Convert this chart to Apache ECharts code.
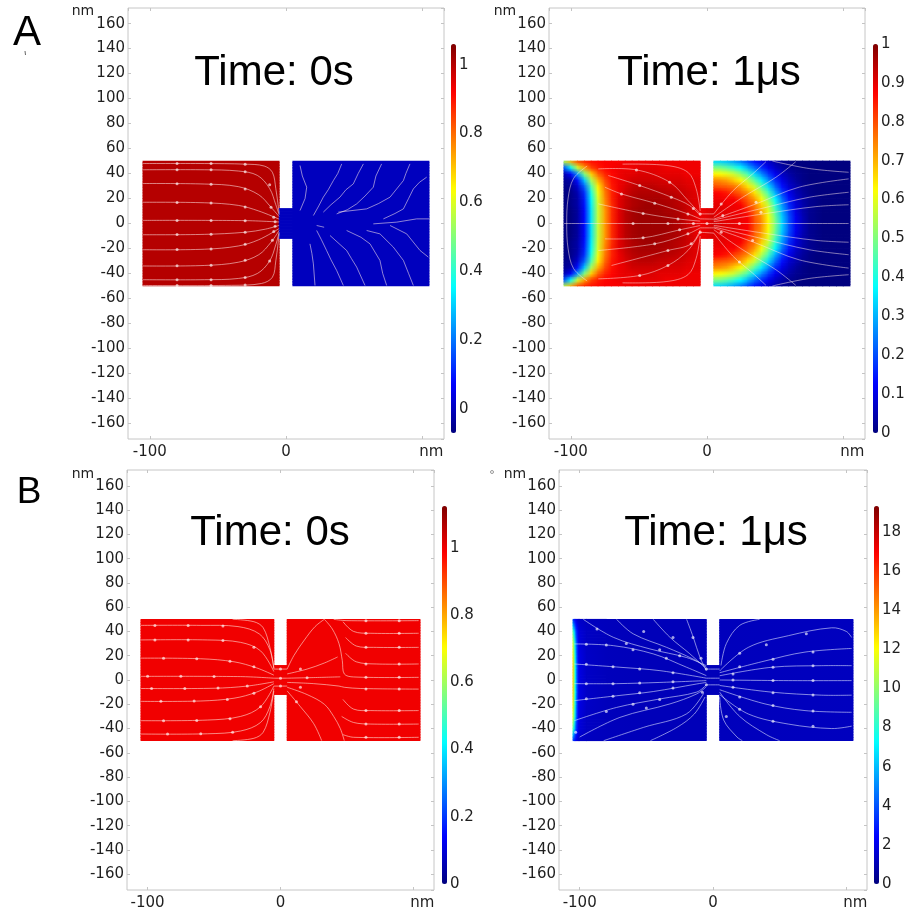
<!DOCTYPE html>
<html>
<head>
<meta charset="utf-8">
<script src="https://cdn.jsdelivr.net/npm/echarts@6/dist/echarts.min.js"></script>
<style>
  html, body { margin: 0; padding: 0; background: #ffffff; }
  #chart { width: 910px; height: 913px; }
</style>
</head>
<body>
<div id="chart"></div>
<script>
// ---------------------------------------------------------------
// Concentration / potential fields in a two-reservoir nanochannel
// geometry (reservoirs -105..-5 nm and 5..105 nm, channel -5..5 nm,
// channel half-height 12 nm, reservoir half-height 50 nm).
// Fields are sampled on nodes for y >= 0; each field is symmetric
// about the channel axis, so the lower half reuses the same rows.
// ---------------------------------------------------------------

// colour scale ranges of the four colour bars
const rangeAL = [-0.07, 1.06];
const rangeAR = [0, 1];
const rangeBL = [0, 1.125];
const rangeBR = [0, 19.33];

// node positions (nm)
const xLeft5 = [-105,-100,-95,-90,-85,-80,-75,-70,-65,-60,-55,-50,-45,-40,-35,-30,-25,-20,-15,-10,-5];
const xRight5 = [5,10,15,20,25,30,35,40,45,50,55,60,65,70,75,80,85,90,95,100,105];
const xChan = [-5, 0, 5];
const yRows5 = [0,5,10,15,20,25,30,35,40,45,50];
const yChan = [0, 6, 12];
const xLeftEnds = [-105, -5];
const xRightEnds = [5, 105];
const xChanEnds = [-5, 5];
const yResEnds = [0, 50];
const yChanEnds = [0, 12];

// A, t = 0 s : step initial condition
const fieldAL_left = [[1.0, 1.0], [1.0, 1.0]];
const fieldAL_chan = [[0.0, 0.0], [0.0, 0.0]];
const fieldAL_right = [[0.0, 0.0], [0.0, 0.0]];

// A, t = 1 us
const fieldAR_left = [
  [0.00,0.00,0.03,0.13,0.35,0.57,0.72,0.83,0.90,0.94,0.96,0.97,0.97,0.97,0.97,0.97,0.96,0.95,0.93,0.91,0.89],
  [0.00,0.00,0.03,0.13,0.35,0.57,0.72,0.83,0.90,0.94,0.96,0.97,0.97,0.97,0.97,0.97,0.96,0.95,0.93,0.91,0.89],
  [0.00,0.00,0.03,0.13,0.35,0.57,0.72,0.83,0.90,0.94,0.96,0.97,0.97,0.97,0.97,0.96,0.96,0.95,0.93,0.91,0.89],
  [0.00,0.01,0.04,0.14,0.36,0.58,0.73,0.83,0.90,0.93,0.95,0.96,0.97,0.97,0.96,0.96,0.95,0.94,0.93,0.91,0.90],
  [0.00,0.01,0.04,0.15,0.37,0.59,0.74,0.84,0.90,0.93,0.95,0.96,0.96,0.96,0.96,0.95,0.95,0.94,0.92,0.91,0.90],
  [0.00,0.01,0.05,0.17,0.40,0.61,0.75,0.84,0.89,0.92,0.94,0.95,0.95,0.95,0.95,0.94,0.94,0.93,0.92,0.91,0.90],
  [0.01,0.02,0.08,0.22,0.45,0.64,0.77,0.85,0.89,0.91,0.93,0.94,0.94,0.94,0.93,0.93,0.92,0.92,0.91,0.90,0.90],
  [0.02,0.04,0.14,0.32,0.54,0.70,0.80,0.86,0.89,0.90,0.92,0.92,0.92,0.92,0.92,0.91,0.91,0.91,0.90,0.90,0.90],
  [0.05,0.12,0.28,0.50,0.67,0.78,0.84,0.87,0.89,0.90,0.90,0.91,0.91,0.91,0.90,0.90,0.90,0.90,0.89,0.89,0.89],
  [0.20,0.38,0.58,0.72,0.81,0.85,0.87,0.88,0.89,0.89,0.89,0.90,0.90,0.90,0.90,0.89,0.89,0.89,0.89,0.89,0.89],
  [0.55,0.70,0.80,0.84,0.86,0.87,0.88,0.88,0.88,0.89,0.89,0.89,0.89,0.89,0.89,0.89,0.89,0.89,0.89,0.89,0.89]
];
const fieldAR_chan = [
  [0.89,0.90,0.92],
  [0.89,0.90,0.92],
  [0.89,0.90,0.91]
];
const fieldAR_right = [
  [0.92,0.91,0.90,0.90,0.89,0.88,0.80,0.74,0.63,0.50,0.34,0.21,0.11,0.06,0.02,0.01,0,0,0,0,0],
  [0.91,0.90,0.90,0.90,0.89,0.88,0.79,0.73,0.62,0.49,0.33,0.21,0.11,0.06,0.02,0.01,0,0,0,0,0],
  [0.90,0.90,0.90,0.89,0.89,0.85,0.78,0.71,0.60,0.46,0.31,0.19,0.10,0.05,0.02,0.01,0,0,0,0,0],
  [0.90,0.90,0.89,0.89,0.88,0.81,0.76,0.67,0.57,0.42,0.28,0.17,0.09,0.05,0.02,0.01,0,0,0,0,0],
  [0.89,0.89,0.88,0.88,0.83,0.78,0.72,0.62,0.51,0.37,0.24,0.14,0.08,0.04,0.02,0.01,0,0,0,0,0],
  [0.88,0.87,0.85,0.81,0.78,0.73,0.65,0.55,0.44,0.30,0.19,0.11,0.06,0.03,0.01,0,0,0,0,0,0],
  [0.80,0.79,0.78,0.76,0.72,0.65,0.57,0.46,0.34,0.23,0.14,0.08,0.05,0.02,0.01,0,0,0,0,0,0],
  [0.74,0.73,0.71,0.67,0.62,0.55,0.46,0.36,0.26,0.17,0.10,0.06,0.03,0.01,0,0,0,0,0,0,0],
  [0.63,0.62,0.60,0.57,0.51,0.44,0.34,0.26,0.18,0.11,0.07,0.04,0.02,0.01,0,0,0,0,0,0,0],
  [0.50,0.49,0.46,0.42,0.37,0.30,0.23,0.17,0.11,0.07,0.04,0.02,0.01,0,0,0,0,0,0,0,0],
  [0.34,0.33,0.31,0.28,0.24,0.19,0.14,0.10,0.07,0.04,0.02,0.01,0,0,0,0,0,0,0,0,0]
];

// B, t = 0 s : uniform
const fieldBL_left = [[1.0, 1.0], [1.0, 1.0]];
const fieldBL_chan = [[1.0, 1.0], [1.0, 1.0]];
const fieldBL_right = [[1.0, 1.0], [1.0, 1.0]];

// B, t = 1 us : thin layer at the left wall
const xBRLeft = [-105,-104,-103,-102,-101,-100,-95,-80,-50,-5];
const yBRRows = [0,10,20,30,40,45,50];
const fieldBR_left = [
  [13.0,10.0,6.8,4.2,2.6,1.9,1.35,1.15,1.1,1.1],
  [13.0,10.0,6.8,4.2,2.6,1.9,1.35,1.15,1.1,1.1],
  [12.5,9.5,6.5,4.0,2.5,1.9,1.35,1.15,1.1,1.1],
  [11.5,8.8,6.0,3.7,2.4,1.8,1.3,1.15,1.1,1.1],
  [9.0,6.8,4.6,3.0,2.1,1.7,1.3,1.15,1.1,1.1],
  [6.0,4.6,3.3,2.3,1.8,1.5,1.25,1.15,1.1,1.1],
  [3.5,2.8,2.2,1.8,1.5,1.4,1.2,1.15,1.1,1.1]
];
const fieldBR_chan = [[1.1, 1.1], [1.1, 1.1]];
const fieldBR_right = [[1.15, 1.2], [1.15, 1.2]];

// streamlines (nm)
const streamsAL_L = [
  [[-105,48],[-60,48],[-30,47.5],[-16,46],[-10,41],[-7.5,28],[-5,8]],
  [[-105,43],[-60,43],[-35,42],[-21,38.5],[-12,28],[-7.5,15],[-5,7]],
  [[-105,32],[-60,31.6],[-35,29.5],[-20,23],[-11,13],[-5,5.5]],
  [[-105,17],[-60,16.6],[-35,14.5],[-20,10],[-5,3.5]],
  [[-105,2.5],[-30,2.3],[-5,1.2]],
  [[-105,-9],[-60,-8.7],[-30,-7],[-15,-4.5],[-5,-1.5]],
  [[-105,-21],[-60,-20.6],[-35,-18],[-20,-13],[-5,-4]],
  [[-105,-34],[-60,-33.6],[-35,-31],[-20,-25],[-11,-15],[-5,-5.5]],
  [[-105,-45],[-60,-45],[-35,-44],[-21,-40],[-12,-30],[-7.5,-17],[-5,-7]],
  [[-105,-49.6],[-40,-49.5],[-18,-48],[-10,-43],[-7.5,-30],[-5,-8]]
];
const streamsAL_R = [
  [[20.1,6.4],[24,14],[27.4,21.1],[31,27],[34.8,34.4],[38,40],[40.9,47.7]],
  [[27.4,9.1],[33,15],[39.6,21.1],[44,27],[49.4,31.7],[53,40],[56.8,47.7]],
  [[37.2,7.7],[45,11],[51.9,15.7],[58,22],[64.1,29.1],[66,38],[70.2,47.7]],
  [[38.4,9.1],[59.2,11.7],[68,16],[76.4,21.1],[86.2,34.4],[88,40],[91,47.7]],
  [[71.5,3.7],[80,8],[86.2,11.7],[90,20],[93.5,27.7],[98,33],[103.3,37.1]],
  [[64.1,-0.3],[81.3,1.1],[95.9,3.7],[105,3.7]],
  [[10.3,10.4],[14,20],[15.2,29.1],[12,38],[10.3,46.4]],
  [[22.5,-5.6],[26,-13],[29.8,-21.6],[33,-29],[37.2,-37.6],[42.1,-49.6]],
  [[17.6,-16.3],[19,-24],[20.1,-32.3],[21.3,-49.6]],
  [[32.3,-9.6],[44.5,-21.6],[48,-28],[51.9,-34.9],[58,-49.6]],
  [[44.5,-5.6],[55,-11],[61.7,-16.3],[69,-29.6],[71,-40],[73.9,-49.6]],
  [[59.2,-5.6],[69,-8.3],[78.8,-18.9],[86.2,-29.6],[90,-40],[93.5,-49.6]],
  [[76.4,-1.6],[88.6,-8.3],[98.4,-21.6],[104.5,-26.9]],
  [[22.5,-1.6],[28,-3]]
];
const arrowsAL = [
  [-80,48],[-55,48],[-30,47.5],[-80,43],[-55,43],[-30,41.5],[-12,31],
  [-80,31.9],[-55,31.4],[-30,27.7],[-11,13],[-80,16.9],[-55,16.4],[-30,13.3],[-9,5],
  [-80,2.5],[-55,2.4],[-30,2.3],[-8,1.4],[-80,-8.9],[-55,-8.6],[-30,-7],[-8,-2.3],
  [-80,-20.9],[-55,-20.4],[-30,-16.7],[-9,-6.5],[-80,-33.9],[-55,-33.4],[-30,-29.5],[-10,-13.5],
  [-80,-45],[-55,-45],[-30,-43.2],[-12,-30],[-80,-49.6],[-55,-49.6],[-30,-49.3]
];

const streamsAR_L = [
  [[-62,47.5],[-30,46.5],[-14,41],[-8,28],[-5,10]],
  [[-79.8,43.7],[-51.8,42.9],[-27.4,33.1],[-14,18.4],[-5,7.7]],
  [[-72.5,38.4],[-49.4,30.4],[-26.2,21.1],[-12.8,14.4],[-5,6.4]],
  [[-75,29.1],[-62.8,23.7],[-38.4,16.3],[-14,7.7],[-5,3.7]],
  [[-79.8,15.7],[-46.9,8.1],[-21.3,3.7],[-5,1.9]],
  [[-105,0],[-54.3,0],[-28.7,0],[-5,0]],
  [[-75,-12.3],[-46.9,-11.5],[-20.1,-5.1],[-5,-1.6]],
  [[-79.8,-21.6],[-38.4,-16.3],[-14,-8.3],[-5,-3.5]],
  [[-70.1,-33.6],[-28.7,-21.6],[-11.6,-16.3],[-5,-5.1]],
  [[-79.8,-44.3],[-49.4,-41.6],[-28.7,-33.6],[-14,-21.6],[-5,-7]],
  [[-62,-47.5],[-30,-46.5],[-14,-41],[-8,-28],[-5,-10]],
  [[-88,46],[-98,36],[-102,20],[-103,0],[-102,-20],[-98,-36],[-88,-46]],
  [[-5,7.7],[5,7.7]], [[-5,3.7],[5,3.5]], [[-5,0],[5,0]], [[-5,-3.5],[5,-3.5]], [[-5,-7],[5,-7.7]]
];
const streamsAR_R = [
  [[5,7.7],[18.9,26],[33.5,39.7],[43.3,49.5]],
  [[5,5],[26.2,21],[50.6,37],[65.2,49.5]],
  [[5,3.5],[36,15.7],[67.7,29.1],[104,35.7]],
  [[5,2.7],[40,12],[75,21],[104,25]],
  [[5,1.5],[43.3,8],[79.9,13.5],[104,15]],
  [[5,0],[104,0]],
  [[48,50],[75,44],[104,41]],
  [[5,-7.7],[18.9,-26],[33.5,-39.7],[43.3,-49.5]],
  [[5,-5],[26.2,-21],[50.6,-37],[65.2,-49.5]],
  [[5,-3.5],[36,-15.7],[67.7,-29.1],[104,-35.7]],
  [[5,-2.7],[40,-12],[75,-21],[104,-25]],
  [[5,-1.5],[43.3,-8],[79.9,-13.5],[104,-15]],
  [[48,-50],[75,-44],[104,-41]]
];
const arrowsAR = [
  [-51.8,42.9],[-27.4,33.1],[-10,12],[-49.4,30.4],[-26.2,21.1],[-62.8,23.7],[-38.4,16.3],[-14,7.7],
  [-46.9,8.1],[-21.3,3.7],[-54.3,0],[-28.7,0],[-10,0],[-46.9,-11.5],[-20.1,-5.1],[-38.4,-16.3],
  [-14,-8.3],[-28.7,-21.6],[-11.6,-16.3],[-49.4,-41.6],[-28.7,-33.6],[0,0],[-5,7.7],[-5,-7],
  [10.4,15.7],[11.6,6.4],[23.8,0],[10.4,-7],[36,17],[39.6,9.1],[33.5,-13.6],[23.8,-30.9]
];

const streamsBL_L = [
  [[-36,50],[-20,48],[-13,43],[-8,27],[-5,10]],
  [[-105,45],[-60,45],[-32,44],[-16,38],[-8,25],[-5,9]],
  [[-105,33],[-55,33],[-30,31],[-15,24],[-5,7]],
  [[-105,18],[-60,17.5],[-35,15],[-18,10],[-5,4]],
  [[-105,3],[-30,2.8],[-5,1.5]],
  [[-105,-7],[-50,-6.8],[-25,-5],[-5,-1.5]],
  [[-105,-17.6],[-60,-17.3],[-35,-15],[-18,-10],[-5,-3]],
  [[-105,-33.5],[-55,-33],[-30,-30],[-15,-22],[-5,-5]],
  [[-105,-44.5],[-55,-44.3],[-30,-42],[-15,-35],[-8,-22],[-5,-7]],
  [[-36,-50],[-20,-48],[-13,-43],[-8,-27],[-5,-9]],
  [[-5,9],[5,9]], [[-5,1.5],[5,1.5]], [[-5,-5],[5,-5]]
];
const streamsBL_R = [
  [[5,9],[10,20],[18,33],[26,44],[33,50]],
  [[33,50],[39,42],[44,30],[46.5,16],[48,5],[55,2.5],[104,2.2]],
  [[40,50],[50,48.9],[104,48.9]],
  [[47,48],[55,40],[68,38.5],[104,38.5]],
  [[49,35],[57,28],[70,26.9],[104,26.9]],
  [[49,22],[57,15],[72,13.2],[104,13.2]],
  [[5,5],[20,9],[33,14],[43,19]],
  [[5,1.5],[25,2],[45,2.6]],
  [[5,-2],[25,-3],[44,-5],[48,-6],[60,-7],[104,-7.5]],
  [[5,-6],[20,-12],[33,-20],[40,-30],[45,-40],[48,-50]],
  [[5,-9],[15,-22],[25,-36],[31,-50]],
  [[47,-16],[55,-24],[68,-25.2],[104,-25.2]],
  [[46,-30],[55,-35],[68,-36.3],[104,-36.3]],
  [[47,-45],[55,-47.2],[104,-47.2]]
];
const arrowsBL = [
  [-94.5,45],[-69.5,45],[-43.3,44.5],[-94.5,33],[-69.5,33],[-43.3,32.5],[-20,27],
  [-88,18],[-63,17.6],[-38,15.5],[-20,11],[-100,3],[-75,3],[-50,2.9],
  [-97,-7],[-72,-6.9],[-47,-6.5],[-25,-5],[-90,-17.6],[-65,-17.4],[-40,-16],[-20,-11],
  [-88,-33.5],[-63,-33.3],[-38,-32],[-15,-22],[-85,-44.5],[-60,-44.3],[-36,-43],
  [64.3,48.9],[89.3,48.9],[64.3,38.5],[89.3,38.5],[64.3,26.9],[89.3,26.9],
  [64.3,13.2],[89.3,13.2],[64.3,2.2],[89.3,2.2],[64.3,-7.5],[89.3,-7.5],
  [64.3,-25.2],[89.3,-25.2],[64.3,-36.3],[89.3,-36.3],[64.3,-47.2],[89.3,-47.2],
  [15,9],[20,1.8],[15,-6],[0,9],[0,1.5],[0,-5],[12,-18]
];

const streamsBR_L = [
  [[-97.3,50],[-74.8,35.2],[-47.3,25.6],[-19.8,18.5],[-5,11.8]],
  [[-72.3,50],[-59.8,38],[-34.8,26.9],[-14.8,17.2],[-5,10.5]],
  [[-44.8,50],[-32.3,35.2],[-17.3,21.5],[-5,9.1]],
  [[-19.8,50],[-14.8,35.2],[-9.8,18.8],[-5,7.7]],
  [[-104,29.7],[-74.8,28.3],[-44.8,21.5],[-19.8,10.5],[-5,3.6]],
  [[-104,13.2],[-69.8,10.5],[-39.8,7.7],[-5,1.5]],
  [[-104,-3],[-72.3,-3],[-39.8,-2],[-5,-0.5]],
  [[-104,-17],[-72.3,-13],[-44.8,-9.5],[-12.3,-3.3],[-5,-2]],
  [[-104,-33.5],[-72.3,-22.6],[-39.8,-15.6],[-12.3,-10],[-5,-4]],
  [[-100,-47],[-69.8,-30.8],[-32.3,-19.7],[-12.3,-11.5],[-5,-5.5]],
  [[-82,-50],[-52,-39],[-20,-28],[-7,-11]],
  [[-47,-50],[-27,-39],[-14,-28],[-6,-14]],
  [[-5,9],[5,9]], [[-5,1.5],[5,1.5]], [[-5,-4],[5,-4]]
];
const streamsBR_R = [
  [[35,50],[20,45],[10,30],[6,12]],
  [[5,7.5],[26.5,26.9],[56.5,36.5],[89,43],[100,40],[104,35]],
  [[5,6],[39,15.7],[69,23],[104,26]],
  [[5,3.5],[44,10.5],[81.5,11.8],[104,11.8]],
  [[5,0],[56.5,-0.5],[104,-0.5]],
  [[5,-4.5],[44,-10],[81.5,-12.5],[104,-12.5]],
  [[5,-8],[39,-19.7],[69,-25.2],[104,-26.6]],
  [[5,-12],[26.5,-28],[56.5,-36.3],[89,-40],[104,-38]],
  [[5,-14],[8,-33],[18,-47],[22,-50]],
  [[5,-10],[20,-30],[40,-45],[50,-50]]
];
const arrowsBR = [
  [-87,42],[-65,30],[-52,40],[-40,25],[-30,35],[-25,20],[-15,35],[-9,18],
  [-95,29.5],[-80,28.8],[-60,25],[-35,18],[-95,13],[-75,11],[-55,9],[-30,6],
  [-95,-3],[-75,-3],[-55,-2.5],[-30,-1.5],[-95,-15.5],[-75,-13.4],[-55,-10.5],[-30,-6.5],
  [-60,-20],[-40,-16],[-80,-26],[-50,-23],[-103,-43],[-8,-10],[-5,9],[-5,-4],
  [20,22],[40,29],[70,38],[20,11],[45,17],[75,23],[15,5],[45,10.5],[75,11.8],
  [15,0],[45,-0.5],[75,-0.5],[15,-6],[45,-10.5],[75,-12.3],[20,-14],[45,-21],[75,-25.5],
  [20,-24],[45,-34],[75,-38],[10,-30]
];

// jet colour map
const JET = ['#00007F','#0000FF','#007FFF','#00FFFF','#7FFF7F','#FFFF00','#FF7F00','#FF0000','#7F0000'];

// ---------------------------------------------------------------
const panels = [
  {
    grid: { left: 128, top: 8, width: 316, height: 431 }, xr: [-116, 116], yr: [-172.5, 172.5],
    bar: { left: 451, top: 44, height: 389 }, range: rangeAL, split: 5, hideMin: true, hideMax: true,
    regions: [
      { xs: xLeftEnds, ys: yResEnds, rows: fieldAL_left },
      { xs: xChanEnds, ys: yChanEnds, rows: fieldAL_chan },
      { xs: xRightEnds, ys: yResEnds, rows: fieldAL_right }
    ],
    streams: [[streamsAL_L, 0.35], [streamsAL_R, 0]], arrows: arrowsAL,
    lineColor: 'rgba(255,235,235,0.55)'
  },
  {
    grid: { left: 549, top: 8, width: 316, height: 431 }, xr: [-116, 116], yr: [-172.5, 172.5],
    bar: { left: 873, top: 44, height: 389 }, range: rangeAR, split: 10, hideMin: false, hideMax: false,
    regions: [
      { xs: xLeft5, ys: yRows5, rows: fieldAR_left },
      { xs: xChan, ys: yChan, rows: fieldAR_chan },
      { xs: xRight5, ys: yRows5, rows: fieldAR_right }
    ],
    streams: [[streamsAR_L, 0.35], [streamsAR_R, 0.35]], arrows: arrowsAR,
    lineColor: 'rgba(255,235,235,0.5)'
  },
  {
    grid: { left: 127, top: 470, width: 307, height: 420 }, xr: [-115.5, 115.5], yr: [-173, 173],
    bar: { left: 442, top: 506, height: 378 }, range: rangeBL, split: 5, hideMin: false, hideMax: true,
    regions: [
      { xs: xLeftEnds, ys: yResEnds, rows: fieldBL_left },
      { xs: xChanEnds, ys: yChanEnds, rows: fieldBL_chan },
      { xs: xRightEnds, ys: yResEnds, rows: fieldBL_right }
    ],
    streams: [[streamsBL_L, 0.35], [streamsBL_R, 0.35]], arrows: arrowsBL,
    lineColor: 'rgba(255,225,215,0.6)'
  },
  {
    grid: { left: 559, top: 470, width: 308, height: 420 }, xr: [-115.5, 115.5], yr: [-173, 173],
    bar: { left: 874, top: 506, height: 378 }, range: rangeBR, split: 10, hideMin: false, hideMax: true,
    regions: [
      { xs: xBRLeft, ys: yBRRows, rows: fieldBR_left },
      { xs: xChanEnds, ys: yChanEnds, rows: fieldBR_chan },
      { xs: xRightEnds, ys: yResEnds, rows: fieldBR_right }
    ],
    streams: [[streamsBR_L, 0.35], [streamsBR_R, 0.35]], arrows: arrowsBR,
    lineColor: 'rgba(220,225,255,0.6)'
  }
];

// Node items, row-major from the bottom row upward:
// [x, y, value, nodesPerRow, isCellOrigin]
function fieldItems(regions) {
  const items = [];
  regions.forEach(function (r) {
    const ny = r.ys.length, nx = r.xs.length;
    // full column of node rows: mirrored lower half, then the stored upper half
    const rowIdx = [], yVals = [];
    for (let j = ny - 1; j >= 1; j--) { rowIdx.push(j); yVals.push(-r.ys[j]); }
    for (let j = 0; j < ny; j++) { rowIdx.push(j); yVals.push(r.ys[j]); }
    const nRows = rowIdx.length;
    for (let k = 0; k < nRows; k++) {
      for (let i = 0; i < nx; i++) {
        items.push([r.xs[i], yVals[k], r.rows[rowIdx[k]][i], nx, (i < nx - 1 && k < nRows - 1) ? 1 : 0]);
      }
    }
  });
  return items;
}

// each cell is shaded from its four corner colours (thin strips, each
// with a horizontal gradient)
function renderField(params, api) {
  const idx = params.dataIndexInside;
  if (!api.value(4)) return null;
  const nx = api.value(3);
  const x0 = api.value(0), x1 = api.value(0, idx + 1);
  const y0 = api.value(1), y1 = api.value(1, idx + nx);
  const p0 = api.coord([x0, y0]);
  const p1 = api.coord([x1, y1]);
  const c00 = api.visual('color'), c10 = api.visual('color', idx + 1);
  const c01 = api.visual('color', idx + nx), c11 = api.visual('color', idx + nx + 1);
  const left = p0[0], width = p1[0] - p0[0];
  const bottom = p0[1], height = p0[1] - p1[1];
  const K = Math.max(1, Math.ceil(height / 1.6));
  const children = [];
  for (let k = 0; k < K; k++) {
    const t = (k + 0.5) / K;
    const cl = echarts.color.lerp(t, [c00, c01]);
    const cr = echarts.color.lerp(t, [c10, c11]);
    const yb = bottom - height * k / K;
    const yt = bottom - height * (k + 1) / K;
    children.push({
      type: 'rect',
      shape: { x: left - 0.4, y: yt - 0.4, width: width + 0.8, height: yb - yt + 0.8 },
      style: { fill: new echarts.graphic.LinearGradient(0, 0, 1, 0, [
        { offset: 0, color: cl }, { offset: 1, color: cr }
      ]) }
    });
  }
  return { type: 'group', children: children };
}

function streamRenderer(lines, smooth, color) {
  return function (params, api) {
    const pts = lines[params.dataIndex].map(function (p) { return api.coord(p); });
    return {
      type: 'polyline',
      shape: { points: pts, smooth: smooth },
      style: { stroke: color, lineWidth: 1, fill: null }
    };
  };
}

const FONT = 'DejaVu Sans';
const labelStyle = { color: '#1f1f1f', fontFamily: FONT, fontSize: 15 };
const tickStyle = { show: true, inside: true, length: 3, lineStyle: { color: '#c4c4c4' } };
const noLine = { show: false, onZero: false };

const grids = [], xAxes = [], yAxes = [], series = [], visualMaps = [];

panels.forEach(function (P) {
  const g = grids.length;
  grids.push(Object.assign({ show: true, borderColor: '#c6c6c6', borderWidth: 1, backgroundColor: '#ffffff' }, P.grid));
  const xb = xAxes.length;
  xAxes.push({
    gridIndex: g, type: 'value', min: P.xr[0], max: P.xr[1], splitNumber: 2, position: 'bottom',
    axisLine: noLine, splitLine: { show: false }, axisTick: tickStyle,
    axisLabel: Object.assign({
      margin: 6, showMinLabel: false, showMaxLabel: false,
      formatter: function (v) { return v === 100 ? '{u|nm}' : String(v); },
      rich: { u: { padding: [0, 0, 0, 18], color: '#1f1f1f', fontFamily: FONT, fontSize: 15 } }
    }, labelStyle)
  });
  xAxes.push({
    gridIndex: g, type: 'value', min: P.xr[0], max: P.xr[1], splitNumber: 2, position: 'top',
    axisLine: noLine, splitLine: { show: false }, axisTick: tickStyle, axisLabel: { show: false }
  });
  const yl = yAxes.length;
  yAxes.push({
    gridIndex: g, type: 'value', min: P.yr[0], max: P.yr[1], splitNumber: 17, position: 'left',
    axisLine: noLine, splitLine: { show: false }, axisTick: tickStyle,
    axisLabel: Object.assign({ margin: 3, showMinLabel: false, showMaxLabel: false }, labelStyle)
  });
  yAxes.push({
    gridIndex: g, type: 'value', min: P.yr[0], max: P.yr[1], splitNumber: 17, position: 'right',
    axisLine: noLine, splitLine: { show: false }, axisTick: tickStyle, axisLabel: { show: false }
  });

  // colour bar scale
  const cg = grids.length;
  grids.push({ left: P.bar.left, top: P.bar.top, width: 5, height: P.bar.height, show: false });
  xAxes.push({ gridIndex: cg, type: 'value', show: false, axisLine: noLine });
  yAxes.push({
    gridIndex: cg, type: 'value', min: P.range[0], max: P.range[1], splitNumber: P.split, position: 'right',
    axisLine: noLine, axisTick: { show: false }, splitLine: { show: false },
    axisLabel: Object.assign({ margin: 3, showMinLabel: !P.hideMin, showMaxLabel: !P.hideMax }, labelStyle)
  });

  const fs = series.length;
  series.push({
    type: 'custom', xAxisIndex: xb, yAxisIndex: yl, renderItem: renderField,
    data: fieldItems(P.regions), encode: { x: 0, y: 1 }, clip: true, silent: true, z: 2
  });
  P.streams.forEach(function (s) {
    series.push({
      type: 'custom', xAxisIndex: xb, yAxisIndex: yl,
      renderItem: streamRenderer(s[0], s[1], P.lineColor),
      data: s[0].map(function (l, i) { return [l[0][0], l[0][1], i]; }),
      encode: { x: 0, y: 1 }, clip: true, silent: true, z: 3
    });
  });
  series.push({
    type: 'scatter', xAxisIndex: xb, yAxisIndex: yl, data: P.arrows, symbol: 'circle', symbolSize: 3,
    itemStyle: { color: 'rgba(255,255,255,0.8)' }, silent: true, z: 4
  });

  visualMaps.push({
    type: 'continuous', seriesIndex: fs, dimension: 2, min: P.range[0], max: P.range[1],
    left: P.bar.left, top: P.bar.top, itemWidth: 5, itemHeight: P.bar.height,
    calculable: false, hoverLink: false, realtime: false, padding: 0, orient: 'vertical',
    inRange: { color: JET }
  });
});

function txt(x, y, text, size, family, color) {
  return {
    type: 'text', x: x, y: y, silent: true, z: 10,
    style: { text: text, fontSize: size, fontFamily: family, fill: color || '#000',
             align: 'center', verticalAlign: 'middle', textAlign: 'center', textVerticalAlign: 'middle' }
  };
}

const TITLE_FONT = 'Liberation Sans';
const graphics = [
  txt(27, 33, 'A', 42, TITLE_FONT),
  txt(29, 493, 'B', 37, TITLE_FONT),
  txt(274, 73, 'Time: 0s', 42, TITLE_FONT),
  txt(709, 73, 'Time: 1\u03bcs', 42, TITLE_FONT),
  txt(270, 533, 'Time: 0s', 42, TITLE_FONT),
  txt(716, 533, 'Time: 1\u03bcs', 42, TITLE_FONT),
  txt(83, 11, 'nm', 14, FONT, '#1f1f1f'),
  txt(505, 11, 'nm', 14, FONT, '#1f1f1f'),
  txt(83, 474, 'nm', 14, FONT, '#1f1f1f'),
  txt(515, 474, 'nm', 14, FONT, '#1f1f1f'),
  { type: 'line', silent: true, shape: { x1: 25, y1: 51, x2: 25.5, y2: 55 }, style: { stroke: '#666', lineWidth: 1 } },
  { type: 'circle', silent: true, shape: { cx: 492, cy: 472, r: 1.5 }, style: { fill: 'none', stroke: '#999', lineWidth: 1 } }
];

const chart = echarts.init(document.getElementById('chart'), null, { renderer: 'canvas' });
chart.setOption({
  animation: false,
  backgroundColor: '#ffffff',
  textStyle: { fontFamily: FONT },
  grid: grids,
  xAxis: xAxes,
  yAxis: yAxes,
  visualMap: visualMaps,
  series: series,
  graphic: graphics
});
</script>
</body>
</html>
